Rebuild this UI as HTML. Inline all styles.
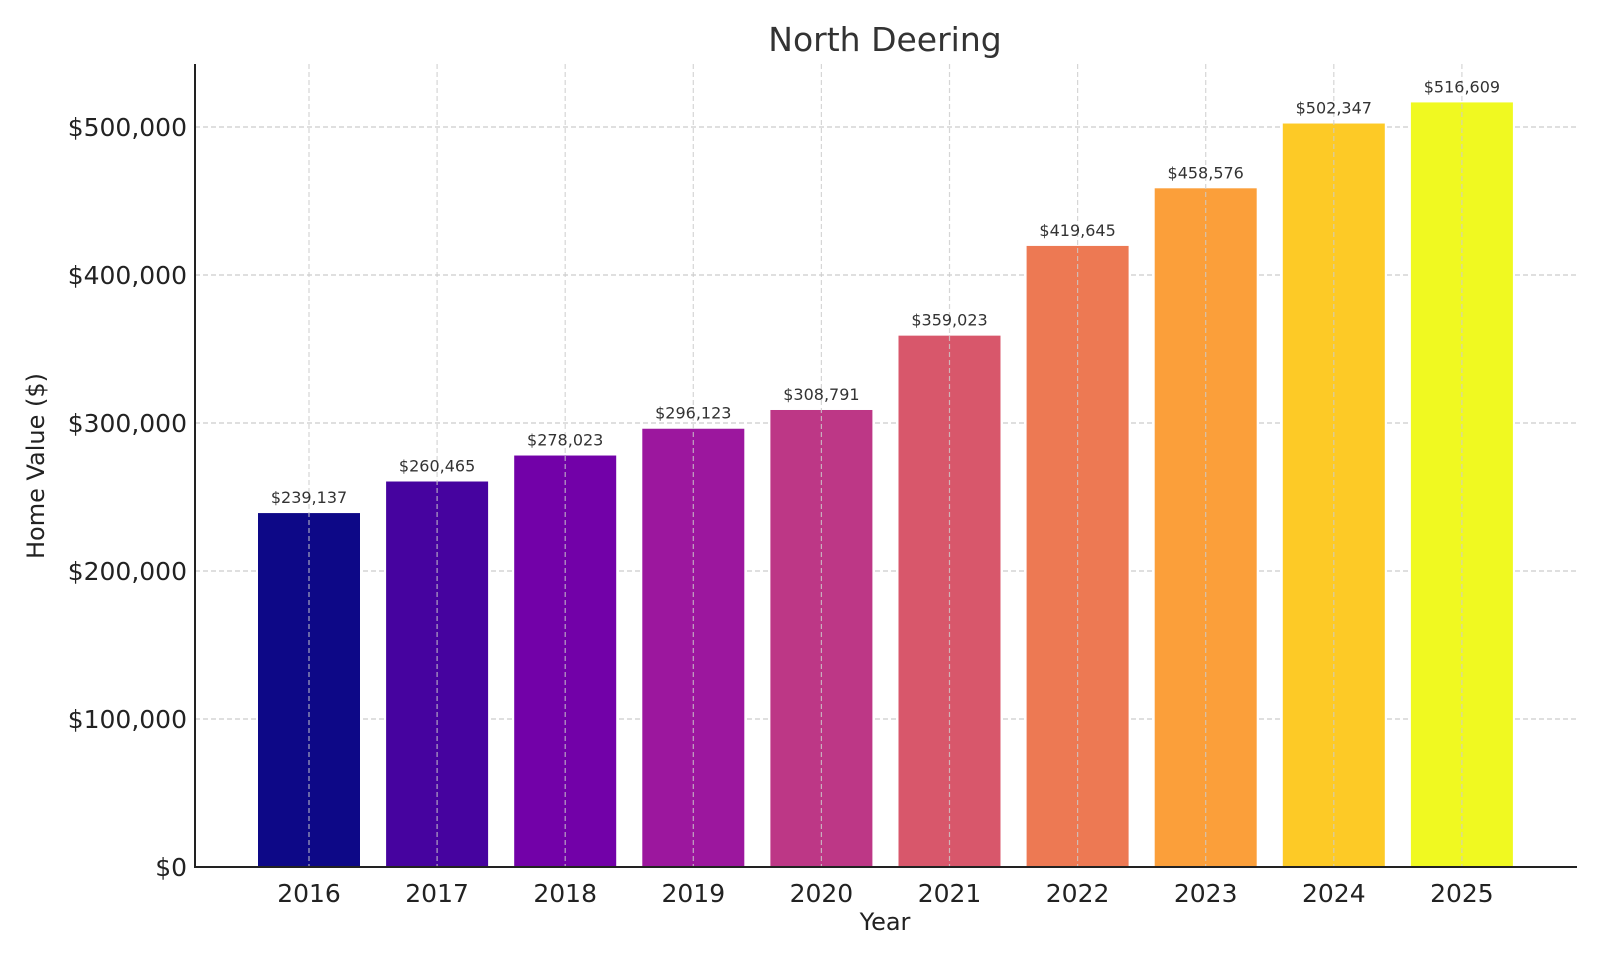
<!DOCTYPE html>
<html><head><meta charset="utf-8"><style>
body{margin:0;background:#fff}
svg{display:block;font-family:"DejaVu Sans","Liberation Sans",sans-serif}
</style></head><body>
<svg id="chart" width="1600" height="960">
<text x="885" y="51" text-anchor="middle" font-size="33" fill="#333">North Deering</text>
<g id="grid"></g><g id="bars"></g><g id="axes"></g>
<text x="885" y="930" text-anchor="middle" font-size="24" fill="#222">Year</text>
<text transform="translate(44,466) rotate(-90)" text-anchor="middle" font-size="24" fill="#222">Home Value ($)</text>
</svg>
<script>
const categories=["2016","2017","2018","2019","2020","2021","2022","2023","2024","2025"];
const values=[239137,260465,278023,296123,308791,359023,419645,458576,502347,516609];
const yTicks=[0,100000,200000,300000,400000,500000];
const colors=["#0d0887","#46039f","#7201a8","#9c179e","#bd3786","#d8576b","#ed7953","#fb9f3a","#fdca26","#f0f921"];
const ns="http://www.w3.org/2000/svg";
const X0=195,X1=1577,Y0=867,Y1=64,yScale=740/500000;
const x=i=>309+i*128.1, y=v=>Y0-v*yScale, bw=102;
function mk(t,a,p){const e=document.createElementNS(ns,t);for(const k in a)e.setAttribute(k,a[k]);p.appendChild(e);return e;}
const fmt=v=>"$"+v.toLocaleString("en-US");
const grid=document.getElementById("grid"),bars=document.getElementById("bars"),axes=document.getElementById("axes");
yTicks.forEach(t=>{
 const l=mk("line",{x1:X0,x2:X1,y1:y(t),y2:y(t),stroke:"#ccc","stroke-dasharray":"5,3","stroke-width":1.2},grid);
 
 
 const tx=mk("text",{x:X0-8,y:y(t)+9,"text-anchor":"end","font-size":25,fill:"#222"},axes);
 tx.textContent=fmt(t);
 
 
});
categories.forEach((c,i)=>{
 const r=mk("rect",{x:x(i)-bw/2,y:y(values[i]),width:bw,height:Y0-y(values[i]),fill:colors[i]},bars);
 
 
 const g=mk("line",{x1:x(i),x2:x(i),y1:Y1,y2:Y0,stroke:"#ccc","stroke-dasharray":"5,3","stroke-width":1.2,opacity:0.8},bars);
 
 
 const lb=mk("text",{x:x(i),y:y(values[i])-10,"text-anchor":"middle","font-size":16,fill:"#333"},bars);
 lb.textContent=fmt(values[i]);
 
 
 const tl=mk("text",{x:x(i),y:Y0+35,"text-anchor":"middle","font-size":25,fill:"#222"},axes);
 tl.textContent=c;
 
 
});
const ax=mk("path",{d:`M${X0},${Y1}V${Y0}H${X1}`,fill:"none",stroke:"#222","stroke-width":2},axes);


</script>
</body></html>
